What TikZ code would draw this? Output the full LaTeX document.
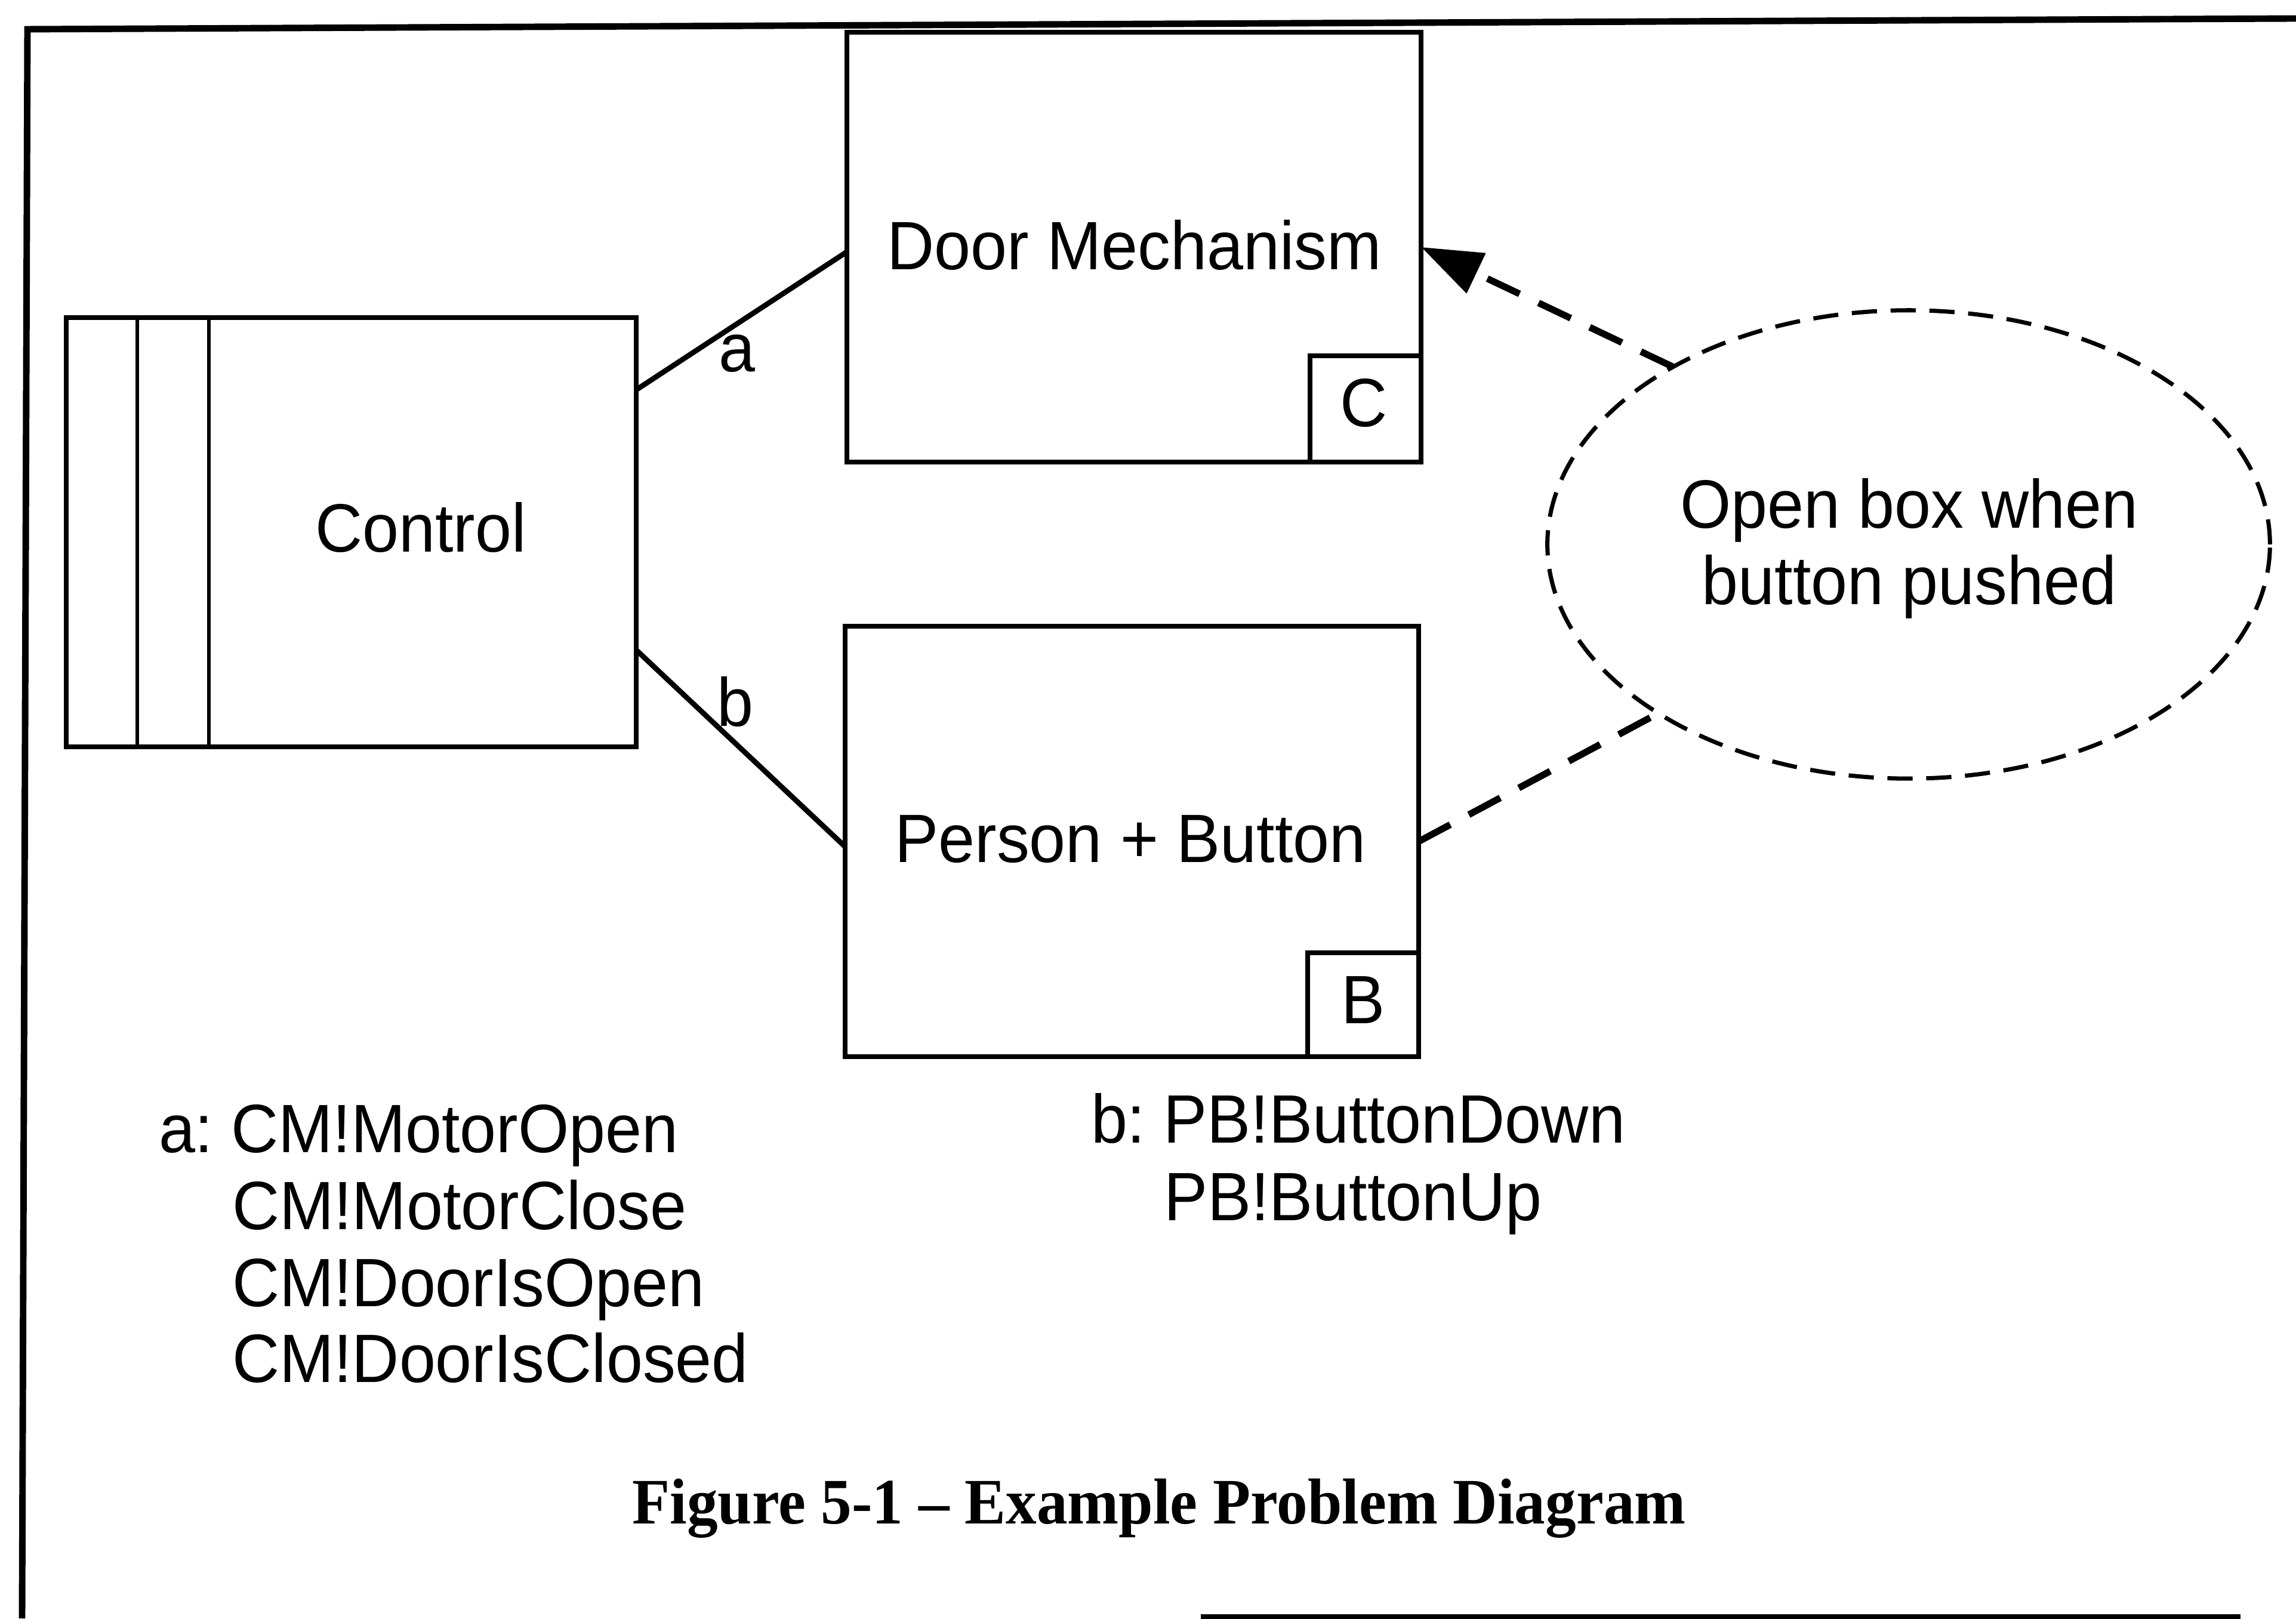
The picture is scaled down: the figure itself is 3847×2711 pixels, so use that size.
\documentclass[tikz,border=0pt]{standalone}
\usepackage{fontspec}
\setmainfont{Liberation Sans}
\newfontfamily\diagfont[FakeStretch=0.956]{Liberation Sans}
\newfontfamily\capfont[FakeStretch=0.95]{Liberation Serif}
\usetikzlibrary{arrows.meta,shapes.geometric,calc}
\begin{document}
\begin{tikzpicture}[x=0.01cm,y=0.01cm,
  txt/.style={font=\diagfont\fontsize{32.6pt}{36pt}\selectfont, inner sep=0pt, outer sep=0pt},
  captxt/.style={font=\capfont\bfseries\fontsize{30.9pt}{34pt}\selectfont, inner sep=0pt},
  boxstyle/.style={draw, line width=2.2pt, inner sep=0pt, outer sep=0pt},
  conn/.style={line width=2.5pt},
  dashconn/.style={line width=3.2pt, dash pattern=on 17pt off 10pt},
  goalstyle/.style={draw, ellipse, line width=2pt, dash pattern=on 12pt off 6.5pt, inner sep=0pt, outer sep=0pt},
  framestyle/.style={line width=3.1pt}]
\useasboundingbox (0,0) rectangle (3847,2711);

% outer frame (scanned)
\draw[framestyle] (3847,2680) -- (46,2662) -- (37,0);
\draw[framestyle] (2012,2) -- (3754,2);

% Control domain (machine)
\node[boxstyle, minimum width=9.55cm, minimum height=7.19cm] (control) at (588.5,1819.5) {};
\draw[line width=1.8pt] ([xshift=1.19cm]control.north west) -- ([xshift=1.19cm]control.south west);
\draw[line width=1.8pt] ([xshift=2.39cm]control.north west) -- ([xshift=2.39cm]control.south west);
\node[txt, anchor=base] (controltext) at (705,1786) {Control};

% Door Mechanism
\node[boxstyle, minimum width=9.62cm, minimum height=7.20cm] (door) at (1900,2297) {};
\node[txt, anchor=base] (doortext) at (1901,2259) {Door Mechanism};
\node[boxstyle, minimum width=1.86cm, minimum height=1.78cm, anchor=south east] (cbox) at (door.south east) {};
\node[txt, anchor=base] (ctext) at (2285,1996) {C};

% Person + Button
\node[boxstyle, minimum width=9.61cm, minimum height=7.21cm] (person) at (1896.5,1301.5) {};
\node[txt, anchor=base] (persontext) at (1894,1266) {Person + Button};
\node[boxstyle, minimum width=1.86cm, minimum height=1.74cm, anchor=south east] (bbox) at (person.south east) {};
\node[txt, anchor=base] (btext) at (2284,996) {B};

% Requirement
\node[goalstyle, minimum width=12.10cm, minimum height=7.84cm] (goal) at (3198,1799) {};
\node[txt, anchor=base] (goal1) at (3199,1826) {Open box when};
\node[txt, anchor=base] (goal2) at (3199,1698) {button pushed};

% interfaces
\draw[conn] ([yshift=-1.21cm]control.north east) -- ([yshift=-0.08cm]door.west);
\draw[conn] ([yshift=1.62cm]control.south east) -- ([yshift=-0.085cm]person.west);
\node[txt, anchor=base] (alabel) at (1235,2088) {a};
\node[txt, anchor=base] (blabel) at (1232,1494) {b};

% requirement references
\draw[dashconn, -{Triangle[length=1.02cm,width=0.72cm]}] (goal.143) -- (door.east);
\draw[dashconn] (person.east) -- (goal.214);

% phenomena
\node[txt, anchor=base west] (pa1) at (266,780) {a:\kern0.3cm CM!MotorOpen};
\node[txt, anchor=base west] (pa2) at (389,651) {CM!MotorClose};
\node[txt, anchor=base west] (pa3) at (389,522) {CM!DoorIsOpen};
\node[txt, anchor=base west] (pa4) at (389,395) {CM!DoorIsClosed};
\node[txt, anchor=base west] (pb1) at (1828,796) {b:\kern0.3cm PB!ButtonDown};
\node[txt, anchor=base west] (pb2) at (1950,666) {PB!ButtonUp};

% caption
\node[captxt, anchor=base] (caption) at (1942,159) {Figure 5-1 – Example Problem Diagram};
\end{tikzpicture}
\end{document}
